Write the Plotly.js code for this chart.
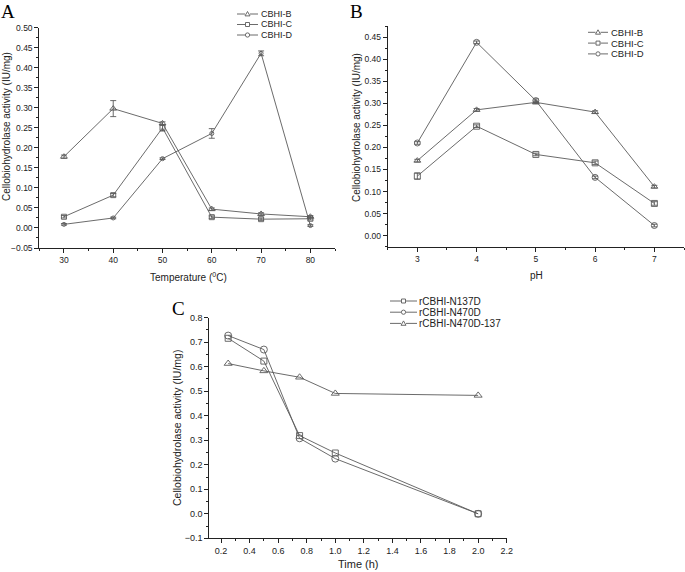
<!DOCTYPE html>
<html><head><meta charset="utf-8">
<script src="https://cdn.plot.ly/plotly-3.0.1.min.js"></script>
<style>html,body{margin:0;padding:0;background:#fff}#plot{width:685px;height:572px}</style>
</head><body><div id="plot"></div>
<script>
// ---------- data ----------
const seriesNamesAB = ["CBHI-B", "CBHI-C", "CBHI-D"];
const tempX = [30, 40, 50, 60, 70, 80];
const tempB = [0.178, 0.298, 0.261, 0.047, 0.035, 0.028];
const tempC = [0.028, 0.082, 0.250, 0.027, 0.022, 0.023];
const tempD = [0.009, 0.025, 0.173, 0.236, 0.436, 0.006];
const tempErrB = [0.004, 0.020, 0.004, 0.003, 0.003, 0.003];
const tempErrC = [0.003, 0.004, 0.008, 0.003, 0.003, 0.003];
const tempErrD = [0.002, 0.002, 0.002, 0.012, 0.006, 0.002];

const pHX = [3, 4, 5, 6, 7];
const pHB = [0.170, 0.285, 0.302, 0.280, 0.111];
const pHC = [0.135, 0.248, 0.184, 0.165, 0.073];
const pHD = [0.210, 0.438, 0.306, 0.132, 0.023];
const pHErrB = [0.003, 0.003, 0.003, 0.003, 0.003];
const pHErrC = [0.007, 0.003, 0.003, 0.004, 0.004];
const pHErrD = [0.003, 0.003, 0.004, 0.003, 0.003];

const seriesNamesC = ["rCBHI-N137D", "rCBHI-N470D", "rCBHI-N470D-137"];
const timeX = [0.25, 0.5, 0.75, 1.0, 2.0];
const timeN137D = [0.716, 0.623, 0.319, 0.248, 0.0];
const timeN470D = [0.727, 0.670, 0.308, 0.225, 0.0];
const timeN470D137 = [0.613, 0.583, 0.557, 0.491, 0.483];

// ---------- helpers ----------
const W = 685, H = 572;
const px = x => x / W, py = y => 1 - y / H;
const LC = '#5a5a5a', AX = '#222';
const FONT = 'Liberation Sans, Arial, sans-serif';
const SERIF = 'Liberation Serif, Times New Roman, serif';

function tr(x, y, err, name, sym, xa, ya, size) {
  const t = {x: x, y: y, name: name, type: 'scatter', mode: 'lines+markers',
    xaxis: xa, yaxis: ya, showlegend: false,
    line: {color: LC, width: 0.9},
    marker: {symbol: sym, size: size, color: LC, line: {color: LC, width: 0.9}}};
  if (err) t.error_y = {type: 'data', array: err, visible: true, color: LC, thickness: 0.9, width: 3};
  return t;
}

const data = [
  tr(tempX, tempB, tempErrB, seriesNamesAB[0], 'triangle-up-open', 'x', 'y', 6),
  tr(tempX, tempC, tempErrC, seriesNamesAB[1], 'square-open', 'x', 'y', 5),
  tr(tempX, tempD, tempErrD, seriesNamesAB[2], 'circle-open', 'x', 'y', 4),
  tr(pHX, pHB, pHErrB, seriesNamesAB[0], 'triangle-up-open', 'x2', 'y2', 6),
  tr(pHX, pHC, pHErrC, seriesNamesAB[1], 'square-open', 'x2', 'y2', 6),
  tr(pHX, pHD, pHErrD, seriesNamesAB[2], 'circle-open', 'x2', 'y2', 6),
  tr(timeX, timeN137D, null, seriesNamesC[0], 'square-open', 'x3', 'y3', 6),
  tr(timeX, timeN470D, null, seriesNamesC[1], 'circle-open', 'x3', 'y3', 7),
  tr(timeX, timeN470D137, null, seriesNamesC[2], 'triangle-up-open', 'x3', 'y3', 7),
];

function axis(dom, range, dtick, minorD, fmt, fs, anchor, tick0) {
  return {domain: dom, range: range, anchor: anchor, showgrid: false, zeroline: false,
    showline: true, linecolor: AX, linewidth: 1, mirror: false,
    ticks: 'outside', ticklen: 4, tickwidth: 1, tickcolor: AX,
    tick0: tick0, dtick: dtick, tickformat: fmt,
    tickfont: {family: FONT, size: fs, color: AX},
    minor: {ticks: 'outside', ticklen: 2, tickwidth: 1, tickcolor: AX, dtick: minorD, tick0: tick0, showgrid: false}};
}

const layout = {
  width: W, height: H, margin: {l: 0, r: 0, t: 0, b: 0},
  paper_bgcolor: '#fff', plot_bgcolor: 'rgba(0,0,0,0)', showlegend: false,
  font: {family: FONT, color: AX},
  xaxis: axis([px(39.3), px(335)], [25, 85], 10, 5, 'd', 8.5, 'y', 30),
  yaxis: axis([py(248), py(27.7)], [-0.05, 0.50], 0.05, 0.025, '.2f', 8.5, 'x', 0),
  xaxis2: axis([px(387.7), px(684)], [2.5, 7.5], 1, 0.5, 'd', 8.5, 'y2', 3),
  yaxis2: axis([py(246.7), py(26)], [-0.025, 0.475], 0.05, 0.025, '.2f', 8.5, 'x2', 0),
  xaxis3: axis([px(209.3), px(506.7)], [0.118, 2.2], 0.2, 0.1, '.1f', 9, 'y3', 0.2),
  yaxis3: axis([py(538.3), py(317.7)], [-0.1, 0.8], 0.1, 0.05, '.1f', 9, 'x3', 0),
  annotations: [],
  shapes: []
};

function ann(text, x, y, size, opts) {
  layout.annotations.push(Object.assign({text: text, xref: 'paper', yref: 'paper',
    x: px(x), y: py(y), showarrow: false, xanchor: 'center', yanchor: 'middle',
    font: {family: FONT, size: size, color: AX}}, opts || {}));
}
// panel letters
ann('A', 8, 11, 19, {borderpad: 0, font: {family: SERIF, size: 19, color: '#000'}});
ann('B', 356, 11, 19, {borderpad: 0, font: {family: SERIF, size: 19, color: '#000'}});
ann('C', 178.5, 308, 19, {borderpad: 0, font: {family: SERIF, size: 19, color: '#000'}});
// axis titles
const yTitle = 'Cellobiohydrolase activity (IU/mg)';
ann(yTitle, 6, 127, 10, {textangle: -90});
ann(yTitle, 357, 128, 10, {textangle: -90});
ann(yTitle, 177, 428, 10.5, {textangle: -90});
ann('Temperature (<sup>0</sup>C)', 188, 277, 10);
ann('pH', 536.7, 275, 10);
ann('Time (h)', 358, 564, 11);

// legend keys
function legend(names, syms, x0, x1, tx, y0, dy, fs, ms) {
  names.forEach((n, i) => {
    const y = y0 + i * dy, xm = (x0 + x1) / 2;
    layout.shapes.push({type: 'line', xref: 'paper', yref: 'paper', x0: px(x0), x1: px(xm - ms), y0: py(y), y1: py(y), line: {color: LC, width: 0.9}});
    layout.shapes.push({type: 'line', xref: 'paper', yref: 'paper', x0: px(xm + ms), x1: px(x1), y0: py(y), y1: py(y), line: {color: LC, width: 0.9}});
    const s = syms[i];
    if (s === 'sq') layout.shapes.push({type: 'rect', xref: 'paper', yref: 'paper', x0: px(xm - ms * 0.8), x1: px(xm + ms * 0.8), y0: py(y - ms * 0.8), y1: py(y + ms * 0.8), line: {color: LC, width: 0.9}});
    else if (s === 'ci') layout.shapes.push({type: 'circle', xref: 'paper', yref: 'paper', x0: px(xm - ms * 0.85), x1: px(xm + ms * 0.85), y0: py(y - ms * 0.85), y1: py(y + ms * 0.85), line: {color: LC, width: 0.9}});
    else layout.shapes.push({type: 'path', xref: 'paper', yref: 'paper',
      path: `M ${px(xm)} ${py(y - ms)} L ${px(xm + ms)} ${py(y + ms * 0.75)} L ${px(xm - ms)} ${py(y + ms * 0.75)} Z`, line: {color: LC, width: 0.9}});
    ann(n, tx, y, fs, {xanchor: 'left', borderpad: 0});
  });
}
legend(seriesNamesAB, ['tri', 'sq', 'ci'], 237, 258, 260, 14, 10.5, 9, 2.5);
legend(seriesNamesAB, ['tri', 'sq', 'ci'], 588, 608, 610, 32.3, 10.8, 9.5, 2.5);
legend(seriesNamesC, ['sq', 'ci', 'tri'], 390, 417, 418, 301, 11.2, 10, 2.5);

Plotly.newPlot('plot', data, layout, {staticPlot: true, displayModeBar: false});
</script></body></html>
